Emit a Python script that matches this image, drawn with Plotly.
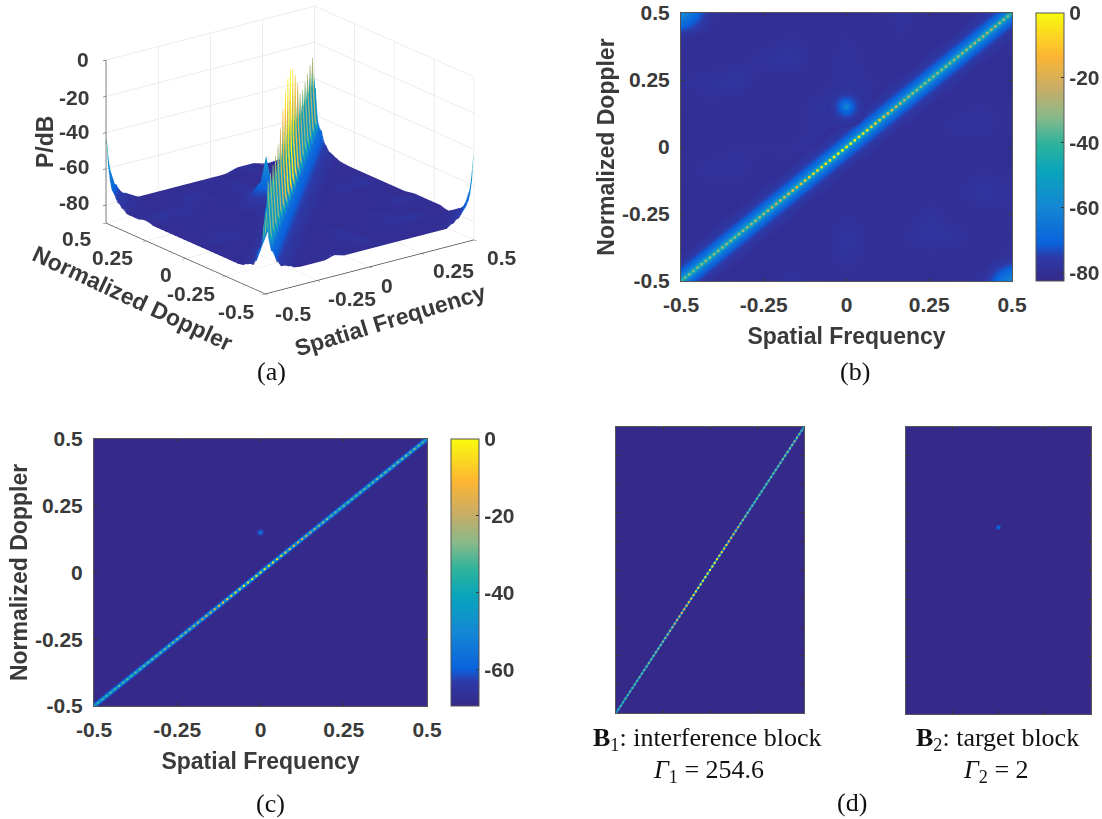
import numpy as np
import plotly.graph_objects as go
from plotly.colors import sample_colorscale

W, H = 1102, 819

# ---------- values (dB) ----------
tick_values = [-0.5, -0.25, 0, 0.25, 0.5]
tick_labels = ["-0.5", "-0.25", "0", "0.25", "0.5"]
db_ticks = [0, -20, -40, -60, -80]
db_labels = ["0", "-20", "-40", "-60", "-80"]

# 81 cells along the clutter ridge, spatial frequency -0.5 .. 0.5
ridge_position = [round(-0.5 + i * 0.0125, 4) for i in range(81)]
ridge_db = [-38, -34, -32, -33, -31, -32, -30, -31, -30, -31,
            -29, -30, -29, -30, -28, -29, -28, -28, -27, -27,
            -26, -25, -23, -22, -20, -19, -17, -15, -13, -12,
            -10, -9, -7, -6, -5, -4, -3, -2, -1, -1,
            0,
            -1, -2, -3, -4, -5, -7, -8, -10, -12, -14,
            -16, -18, -20, -23, -25, -27, -29, -29, -30, -29,
            -30, -29, -30, -28, -29, -28, -29, -27, -28, -27,
            -27, -26, -26, -25, -25, -25, -26, -28, -31, -37]
# sampling notches of the ridge in the 3-D view
ridge_notch_db = [-48, -47, -46, -46, -45, -46, -45, -44, -45, -44,
                  -44, -45, -46, -46, -47, -48, -50, -52, -52, -53,
                  -53, -52, -52, -50, -48, -46, -46, -45, -44, -44,
                  -43, -44, -44, -43, -44, -43, -43, -44, -45, -47]
stripe_low_color_db = -56

# fall-off either side of the ridge
skirt_offset = [0, 0.003, 0.0075, 0.015, 0.03, 0.045, 0.06, 0.075, 0.09, 0.12,
                0.16, 0.22, 0.28, 0.34, 0.4, 0.44, 0.47, 0.49, 0.5]
skirt_db = [-40, -45, -60, -67, -74, -77, -78.5, -79.5, -80, -81,
            -81, -81, -81, -81, -81, -81, -81, -81, -81]

# rise towards the two off-diagonal corners
corner_distance = [0, 0.0125, 0.02, 0.03, 0.04, 0.06, 0.08, 0.11, 0.15]
corner_db = [-40, -58, -62, -66, -70, -74, -76, -78, -81]

# target
target_x = [0]
target_y = [0.15]
target_radius = [0, 0.0125, 0.025, 0.04, 0.06, 0.09, 0.13]
target_radius_db = [-54, -63, -69, -73, -76, -78, -80]
target_halo_db = [-78.5, -77.5, -76.5, -75.5, -74.5, -73.5, -72.5, -71, -69, -67, -64, -60]
target_halo_size = [42, 36, 31, 27, 24, 21, 18, 15, 12, 9, 6, 4]

# background of panel (b), rows from Doppler -0.5 to 0.5
grid_axis = [round(-0.5 + i / 12, 4) for i in range(13)]
background_db = [
    [-70, -78, -80, -80, -78, -80, -80, -80, -80, -80, -80, -78, -58],
    [-78, -80, -80, -80, -80, -80, -78, -80, -80, -80, -80, -80, -78],
    [-80, -80, -80, -80, -80, -80, -77, -80, -79, -77, -78, -80, -80],
    [-80, -80, -80, -80, -80, -80, -79, -80, -80, -78, -80, -80, -79],
    [-80, -80, -80, -80, -80, -79, -80, -80, -80, -80, -79, -77, -79],
    [-80, -78, -78, -80, -79, -79, -80, -80, -80, -80, -80, -79, -80],
    [-80, -80, -79, -79, -79, -78, -78, -79, -80, -80, -80, -80, -80],
    [-80, -80, -80, -80, -80, -78, -78, -78, -79, -80, -78, -78, -80],
    [-80, -79, -80, -80, -80, -78, -76, -78, -79, -80, -80, -79, -80],
    [-79, -78, -77, -80, -80, -80, -78, -79, -80, -80, -80, -80, -80],
    [-80, -80, -80, -78, -77, -80, -78, -80, -80, -80, -80, -80, -80],
    [-78, -80, -80, -80, -79, -80, -79, -80, -79, -80, -80, -80, -78],
    [-58, -78, -80, -80, -80, -80, -80, -80, -78, -80, -80, -78, -70],
]
flat_background_db = [[-69.5, -69.5], [-69.5, -69.5]]
glow_span = [-0.6, 0.6]
glow_b_db = [-79.5, -78.5, -77.5, -76.5, -75, -73.5, -72, -70, -68, -66, -63, -60, -56, -50, -44]
glow_b_width = [50, 42, 36, 30, 26, 22, 19, 16, 13.5, 11, 9, 7, 5.5, 4, 2]
glow_c_db = [-66, -60, -54, -46]
glow_c_width = [6, 4.5, 3, 1.8]

ZMIN_B, ZMAX = -82.5, 0
ZMIN_C = -69.5

PARULA = [[0, "#35298a"], [0.09, "#2d3aa8"], [0.14, "#0a62dc"], [0.28, "#1488d4"],
          [0.41, "#09a4bc"], [0.51, "#2cb39c"], [0.61, "#88b98a"], [0.72, "#c9ad66"],
          [0.84, "#fdb532"], [1, "#f9fb0e"]]

INK = "#3a3a3a"
SANS = "Liberation Sans"
SERIF = "Liberation Serif"

# where panel (a)'s tick labels sit in the picture (scene tick text cannot be placed)
doppler_label_px = [(236, 311), (191, 293), (166, 275), (112, 257), (77, 238)]
spatial_label_px = [(293, 313), (352, 298), (387, 285), (453, 271), (502, 257)]
db_label_right_px = 91
db_label_y_px = [60, 97, 132, 167, 202]


def px_x(p):
    return p / W


def px_y(p):
    return 1 - p / H


def col(db, zmin):
    return sample_colorscale(PARULA, [(db - zmin) / (ZMAX - zmin)])[0]


def nearest(xs, ys, q):
    return ys[int(np.argmin(np.abs(np.asarray(xs) - q)))]


# ---------- surface (a): the mesh runs along and across the ridge; each node takes the
# largest of the read tables above at its nearest entry (composed, not read cell by cell) ----------
across = [-v for v in skirt_offset[:0:-1]] + skirt_offset
sx, sy, sz, sc = [], [], [], []
for i, s in enumerate(ridge_position):
    rx, ry, rz, rc = [], [], [], []
    high = i % 4 in (0, 1)
    crest = ridge_db[i] if high else ridge_notch_db[min(i // 2, 39)]
    for d in across:
        x = min(0.5, max(-0.5, s - d))
        y = min(0.5, max(-0.5, s + d))
        off = abs(y - x) / 2
        if off < 1e-9:
            z = crest
        else:
            col_i = int(np.argmin(np.abs(np.asarray(grid_axis) - x)))
            row_i = int(np.argmin(np.abs(np.asarray(grid_axis) - y)))
            floor = min(background_db[row_i][col_i], -78)
            skirt = nearest(skirt_offset, skirt_db, off)
            corner = max(nearest(corner_distance, corner_db, abs(x + 0.5) + abs(y - 0.5)),
                         nearest(corner_distance, corner_db, abs(x - 0.5) + abs(y + 0.5)))
            target = nearest(target_radius, target_radius_db,
                             float(np.hypot(x - target_x[0], y - target_y[0])))
            z = max(floor, skirt, corner, target)
        c = z
        if off <= skirt_offset[2] + 1e-9 and abs(s - d) <= 0.5 and abs(s + d) <= 0.5:
            c = ridge_db[i] if high else stripe_low_color_db
        rx.append(x)
        ry.append(y)
        rz.append(z)
        rc.append(c)
    sx.append(rx)
    sy.append(ry)
    sz.append(rz)
    sc.append(rc)

fig = go.Figure()
fig.add_trace(go.Surface(x=sx, y=sy, z=sz, surfacecolor=sc, colorscale=PARULA, cmin=ZMIN_B, cmax=ZMAX,
                         showscale=False, hoverinfo="skip",
                         lighting=dict(ambient=1, diffuse=0, specular=0, roughness=1, fresnel=0)))

# ---------- panel (b) ----------
fig.add_trace(go.Heatmap(x=grid_axis, y=grid_axis, z=background_db, colorscale=PARULA,
                         zmin=ZMIN_B, zmax=ZMAX, zsmooth="best", xaxis="x", yaxis="y",
                         colorbar=dict(x=px_x(1036), xanchor="left", y=px_y(147), yanchor="middle",
                                       len=268 / H, thickness=28, thicknessmode="pixels",
                                       tickvals=db_ticks, ticktext=db_labels, ticks="inside", ticklen=3,
                                       tickcolor="#333", outlinecolor="#555", outlinewidth=1,
                                       xpad=0, ypad=0,
                                       tickfont=dict(family=SANS, size=21, color=INK, weight="bold"))))
for db, w in zip(glow_b_db, glow_b_width):
    fig.add_trace(go.Scatter(x=glow_span, y=glow_span, mode="lines", xaxis="x", yaxis="y",
                             line=dict(color=col(db, ZMIN_B), width=w), showlegend=False, hoverinfo="skip"))
for db, size in zip(target_halo_db, target_halo_size):
    fig.add_trace(go.Scatter(x=target_x, y=target_y, mode="markers", xaxis="x", yaxis="y",
                             marker=dict(color=col(db, ZMIN_B), size=size, opacity=0.9, line=dict(width=0)),
                             showlegend=False, hoverinfo="skip"))
fig.add_trace(go.Scatter(x=ridge_position, y=ridge_position, mode="markers", xaxis="x", yaxis="y",
                         marker=dict(symbol="square", size=2.5, color=ridge_db, colorscale=PARULA,
                                     cmin=ZMIN_B, cmax=ZMAX, line=dict(width=0)),
                         showlegend=False, hoverinfo="skip"))

# ---------- panel (c) ----------
fig.add_trace(go.Heatmap(x=[-0.5, 0.5], y=[-0.5, 0.5], z=flat_background_db, colorscale=PARULA,
                         zmin=ZMIN_C, zmax=ZMAX, xaxis="x2", yaxis="y2",
                         colorbar=dict(x=px_x(451), xanchor="left", y=px_y(572.5), yanchor="middle",
                                       len=267 / H, thickness=28, thicknessmode="pixels",
                                       tickvals=db_ticks[:4], ticktext=db_labels[:4], ticks="inside", ticklen=3,
                                       tickcolor="#333", outlinecolor="#555", outlinewidth=1,
                                       xpad=0, ypad=0,
                                       tickfont=dict(family=SANS, size=21, color=INK, weight="bold"))))
for db, w in zip(glow_c_db, glow_c_width):
    fig.add_trace(go.Scatter(x=glow_span, y=glow_span, mode="lines", xaxis="x2", yaxis="y2",
                             line=dict(color=col(db, ZMIN_C), width=w), showlegend=False, hoverinfo="skip"))
fig.add_trace(go.Scatter(x=target_x, y=target_y, mode="markers", xaxis="x2", yaxis="y2",
                         marker=dict(color=col(-64, ZMIN_C), size=8, line=dict(width=0)), showlegend=False, hoverinfo="skip"))
fig.add_trace(go.Scatter(x=target_x, y=target_y, mode="markers", xaxis="x2", yaxis="y2",
                         marker=dict(color=col(-56, ZMIN_C), size=4, line=dict(width=0)), showlegend=False, hoverinfo="skip"))
fig.add_trace(go.Scatter(x=ridge_position, y=ridge_position, mode="markers", xaxis="x2", yaxis="y2",
                         marker=dict(symbol="square", size=2, color=ridge_db, colorscale=PARULA,
                                     cmin=ZMIN_C, cmax=ZMAX, line=dict(width=0)),
                         showlegend=False, hoverinfo="skip"))

# ---------- panel (d): the two blocks ----------
fig.add_trace(go.Heatmap(x=[-0.5, 0.5], y=[-0.5, 0.5], z=flat_background_db, colorscale=PARULA,
                         zmin=ZMIN_C, zmax=ZMAX, showscale=False, xaxis="x3", yaxis="y3"))
fig.add_trace(go.Scatter(x=glow_span, y=glow_span, mode="lines", xaxis="x3", yaxis="y3",
                         line=dict(color=col(-48, ZMIN_C), width=2), showlegend=False, hoverinfo="skip"))
fig.add_trace(go.Scatter(x=ridge_position, y=ridge_position, mode="markers", xaxis="x3", yaxis="y3",
                         marker=dict(symbol="square", size=2, color=ridge_db, colorscale=PARULA,
                                     cmin=ZMIN_C, cmax=ZMAX, line=dict(width=0)),
                         showlegend=False, hoverinfo="skip"))
fig.add_trace(go.Heatmap(x=[-0.5, 0.5], y=[-0.5, 0.5], z=flat_background_db, colorscale=PARULA,
                         zmin=ZMIN_C, zmax=ZMAX, showscale=False, xaxis="x4", yaxis="y4"))
fig.add_trace(go.Scatter(x=target_x, y=target_y, mode="markers", xaxis="x4", yaxis="y4",
                         marker=dict(symbol="square", color=col(-60, ZMIN_C), size=4, line=dict(width=0)),
                         showlegend=False, hoverinfo="skip"))


def axis_2d(dom, anchor, title=None, labelled=True, vals=None, standoff=0, side_x=True):
    a = dict(domain=dom, anchor=anchor, range=[-0.5, 0.5], showgrid=False, zeroline=False,
             showline=True, linecolor="#555", linewidth=1, mirror="allticks", ticks="inside",
             ticklen=3, tickcolor="#333", layer="above traces")
    if labelled:
        a.update(tickvals=tick_values, ticktext=tick_labels,
                 tickfont=dict(family=SANS, size=21, color=INK, weight="bold"),
                 ticklabelstandoff=5 if side_x else 6)
    else:
        a.update(tickvals=vals, showticklabels=False)
    if title:
        a.update(title=dict(text=title, standoff=standoff,
                            font=dict(family=SANS, size=23, color=INK, weight="bold")))
    return a


def sx_dom(a, b):
    return [a / W, b / W]


def sy_dom(top, bottom):
    return [1 - bottom / H, 1 - top / H]


inner_x = [-0.25, 0, 0.25]
inner_y = [-0.4, -0.3, -0.2, -0.1, 0, 0.1, 0.2, 0.3, 0.4]


def axis_3d(title_vals, rng):
    return dict(range=rng, tickmode="array", tickvals=title_vals, showticklabels=False,
                title=dict(text=""), showbackground=False, showgrid=True, gridcolor="#dcdcdc",
                gridwidth=1, zeroline=False, showline=True, linecolor="#444", linewidth=1.5,
                ticks="outside", ticklen=4, tickcolor="#333", showspikes=False)


def cap(text, x, y, size=26, angle=0, family=SERIF, color="#111", weight=None, xanchor="center"):
    f = dict(family=family, size=size, color=color)
    if weight:
        f["weight"] = weight
    return dict(text=text, x=px_x(x), y=px_y(y), xref="paper", yref="paper", xanchor=xanchor,
                yanchor="middle", showarrow=False, textangle=angle, font=f)


annotations = [
    cap("(a)", 271, 372), cap("(b)", 855, 372), cap("(c)", 270, 803), cap("(d)", 852, 802),
    cap("<b>B</b><sub>1</sub>: interference block", 707, 739),
    cap("<i>Γ</i><sub>1</sub> = 254.6", 708, 771),
    cap("<b>B</b><sub>2</sub>: target block", 997, 739),
    cap("<i>Γ</i><sub>2</sub> = 2", 996, 771),
    cap("Normalized Doppler", 132, 298, 23, 25, SANS, INK, "bold"),
    cap("Spatial Frequency", 390, 320, 23, -17, SANS, INK, "bold"),
    cap("P/dB", 45, 142, 23, -90, SANS, INK, "bold"),
]
for t, (px, py) in zip(tick_labels, doppler_label_px):
    annotations.append(cap(t, px, py, 21, 0, SANS, INK, "bold"))
for t, (px, py) in zip(tick_labels, spatial_label_px):
    annotations.append(cap(t, px, py, 21, 0, SANS, INK, "bold"))
for t, py in zip(db_labels, db_label_y_px):
    annotations.append(cap(t, db_label_right_px, py, 21, 0, SANS, INK, "bold", xanchor="right"))

eye_dir = np.array([-0.571, -0.748, 0.3395])
eye = eye_dir * 1.11
SCENE_SCALE = 1.75

fig.update_layout(
    width=W, height=H, margin=dict(l=0, r=0, t=0, b=0, autoexpand=False), autosize=False,
    paper_bgcolor="white", plot_bgcolor="white", showlegend=False,
    annotations=annotations,
    scene=dict(
        domain=dict(x=sx_dom(40, 540), y=sy_dom(0, 300)),
        xaxis=axis_3d(tick_values, [-0.5, 0.5]),
        yaxis=axis_3d(tick_values, [-0.5, 0.5]),
        zaxis=axis_3d(db_ticks, [-90, 0]),
        aspectmode="manual", aspectratio=dict(x=SCENE_SCALE, y=SCENE_SCALE, z=0.66 * SCENE_SCALE),
        camera=dict(eye=dict(x=eye[0], y=eye[1], z=eye[2]), up=dict(x=0, y=0, z=1),
                    center=dict(x=0, y=0, z=0), projection=dict(type="orthographic")),
    ),
    xaxis=axis_2d(sx_dom(681, 1012), "y", "Spatial Frequency", standoff=12),
    yaxis=axis_2d(sy_dom(13, 281), "x", "Normalized Doppler", standoff=0, side_x=False),
    xaxis2=axis_2d(sx_dom(94, 427), "y2", "Spatial Frequency", standoff=12),
    yaxis2=axis_2d(sy_dom(439, 706), "x2", "Normalized Doppler", standoff=0, side_x=False),
    xaxis3=axis_2d(sx_dom(616, 804), "y3", labelled=False, vals=inner_x),
    yaxis3=axis_2d(sy_dom(427, 713), "x3", labelled=False, vals=inner_y),
    xaxis4=axis_2d(sx_dom(906, 1091), "y4", labelled=False, vals=inner_x),
    yaxis4=axis_2d(sy_dom(427, 714), "x4", labelled=False, vals=inner_y),
)

fig.write_html("out.html", config=dict(displayModeBar=False),
               post_script="document.body.style.margin='0';document.documentElement.style.overflow='hidden';")
